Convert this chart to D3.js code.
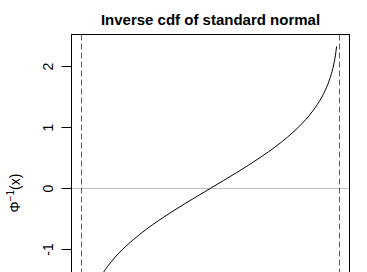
<!DOCTYPE html>
<html>
<head>
<meta charset="utf-8">
<script src="https://cdn.jsdelivr.net/npm/d3@7"></script>
<style>
  body { margin: 0; background: #fff; }
  svg text { font-family: "Liberation Sans", Arial, sans-serif; fill: #000; }
</style>
</head>
<body>
<svg id="chart" width="367" height="272"></svg>
<script>
// points (probability, quantile)
var probs = [0.01, 0.015, 0.02, 0.03, 0.04, 0.05, 0.07, 0.1, 0.13, 0.16, 0.2, 0.25, 0.3, 0.35, 0.4, 0.45, 0.5,
             0.55, 0.6, 0.65, 0.7, 0.75, 0.8, 0.84, 0.87, 0.9, 0.93, 0.95, 0.96, 0.97, 0.98, 0.985, 0.99];
var quantiles = [-2.326, -2.170, -2.054, -1.881, -1.751, -1.645, -1.476, -1.282, -1.126, -0.994, -0.842, -0.674, -0.524, -0.385, -0.253, -0.126, 0,
                 0.126, 0.253, 0.385, 0.524, 0.674, 0.842, 0.994, 1.126, 1.282, 1.476, 1.645, 1.751, 1.881, 2.054, 2.170, 2.326];
var yTicks = [-1, 0, 1, 2];
var vLines = [0, 1];
var hLines = [0];
var title = "Inverse cdf of standard normal";

function makeChart() {
  var data = probs.map(function(p, i) { return { x: p, y: quantiles[i] }; });

  var svg = d3.select("svg#chart");
  var pLeft = 71.5, pRight = 349.5, pTop = 34.5, pBottom = 342.1;

  var xScale = d3.scaleLinear().domain([-0.04, 1.04]).range([pLeft, pRight]);
  var yScale = d3.scaleLinear().domain([-2.52, 2.52]).range([pBottom, pTop]);

  // title
  svg.append("text")
    .attr("x", (pLeft + pRight) / 2)
    .attr("y", 25)
    .attr("text-anchor", "middle")
    .style("font-size", "15px")
    .style("font-weight", "bold")
    .text(title);

  var g = svg.append("g");

  // reference lines
  g.selectAll(".hline").data(hLines).enter().append("line")
    .attr("class", "hline")
    .attr("x1", pLeft).attr("x2", pRight)
    .attr("y1", function(d) { return Math.round(yScale(d)) + 0.5; })
    .attr("y2", function(d) { return Math.round(yScale(d)) + 0.5; })
    .style("stroke", "#bebebe").style("stroke-width", 1);

  g.selectAll(".vline").data(vLines).enter().append("line")
    .attr("class", "vline")
    .attr("x1", function(d) { return Math.floor(xScale(d)) + 0.5; })
    .attr("x2", function(d) { return Math.floor(xScale(d)) + 0.5; })
    .attr("y1", pTop).attr("y2", 272)
    .style("stroke", "#5a5a5a").style("stroke-width", 1)
    .style("stroke-dasharray", "6,3");

  // curve
  var line = d3.line()
    .x(function(d) { return xScale(d.x); })
    .y(function(d) { return yScale(d.y); })
    .curve(d3.curveMonotoneX);

  g.append("path")
    .datum(data)
    .attr("d", line)
    .style("fill", "none")
    .style("stroke", "#000")
    .style("stroke-width", 1);

  // box
  svg.append("rect")
    .attr("x", pLeft).attr("y", pTop)
    .attr("width", pRight - pLeft).attr("height", pBottom - pTop)
    .style("fill", "none").style("stroke", "#000").style("stroke-width", 1);

  // y axis
  var axis_left = d3.axisLeft(yScale).tickValues(yTicks).tickSize(10).tickSizeOuter(0)
    .tickFormat(function(d) { return String(d); });
  var ax = svg.append("g")
    .attr("class", "axis axis--y")
    .attr("transform", "translate(" + pLeft + ",0)")
    .call(axis_left);
  ax.select("path.domain").remove();
  ax.selectAll("g.tick line").style("stroke", "#000");
  ax.selectAll("g.tick").attr("transform", function(d) { return "translate(0," + (Math.round(yScale(d)) + 0.5) + ")"; });
  ax.selectAll("g.tick text")
    .attr("x", null).attr("dy", null)
    .attr("text-anchor", "middle")
    .attr("transform", "translate(-18.5,0) rotate(-90)")
    .style("font-size", "14px")
    .style("font-family", "'Liberation Sans', Arial, sans-serif")
    .style("fill", "#000");

  // y label
  var ylab = svg.append("text")
    .attr("transform", "translate(20,193) rotate(-90)")
    .attr("text-anchor", "middle")
    .style("font-size", "14px");
  ylab.append("tspan").text("\u03A6");
  ylab.append("tspan").attr("dy", -6).style("font-size", "10px").text("\u22121");
  ylab.append("tspan").attr("dy", 6).text("(x)");
}

makeChart();
</script>
</body>
</html>
